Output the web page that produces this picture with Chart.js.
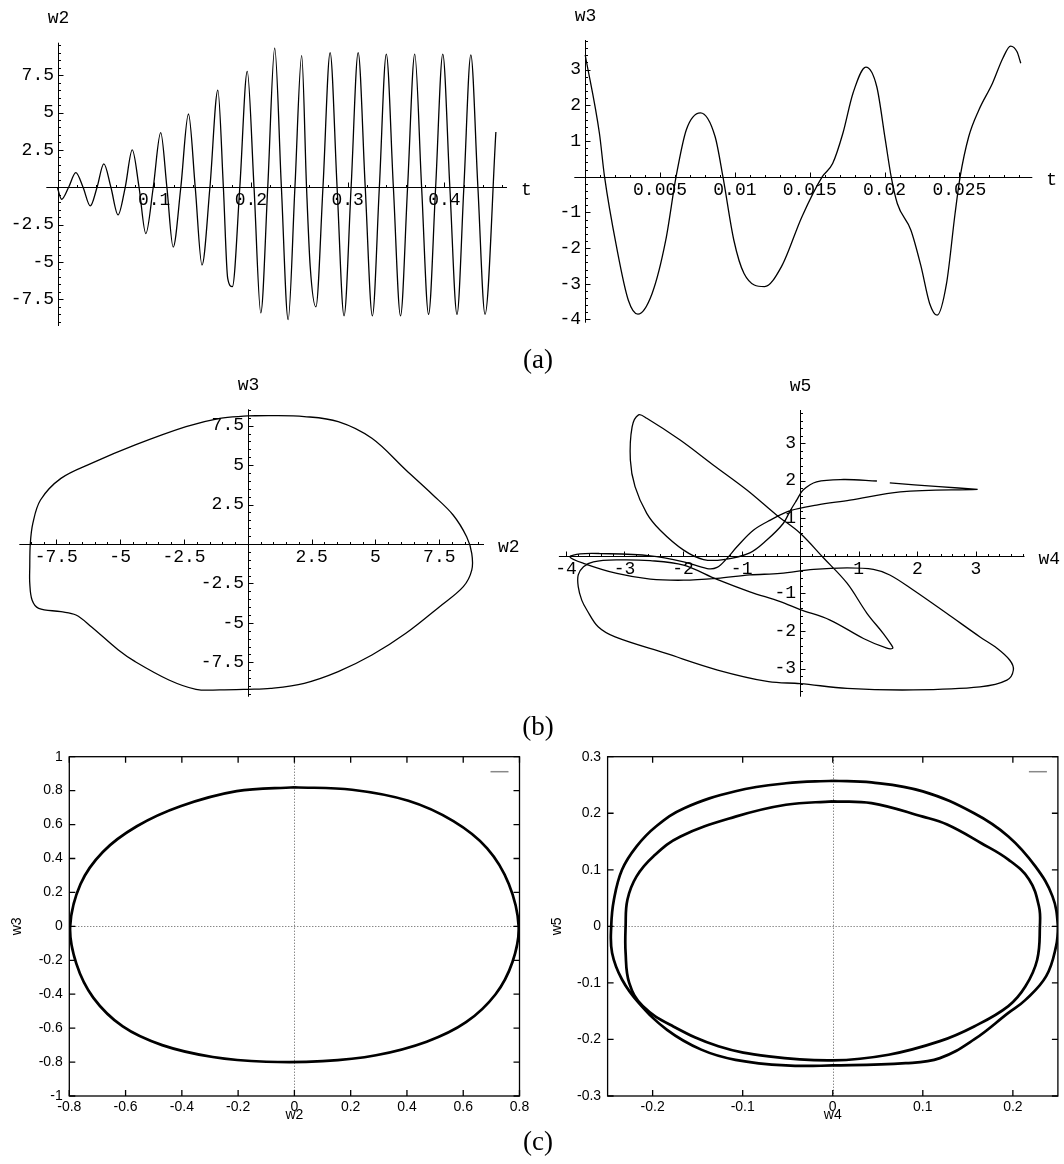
<!DOCTYPE html>
<html><head><meta charset="utf-8">
<script src="https://cdn.jsdelivr.net/npm/chart.js@4.4.1/dist/chart.umd.min.js"></script>
<style>
html,body{margin:0;padding:0;background:#fff;}
body{width:1064px;height:1164px;position:relative;overflow:hidden;}
canvas{position:absolute;}
.tag{position:absolute;font-family:"Liberation Serif","Times New Roman",serif;font-size:27px;color:#000;transform:translate(-50%,-50%);line-height:1;white-space:nowrap;}
</style></head><body>
<canvas id="c1" width="540" height="345" style="left:0;top:0"></canvas>
<canvas id="c2" width="524" height="345" style="left:540px;top:0"></canvas>
<canvas id="c3" width="540" height="350" style="left:0;top:360px"></canvas>
<canvas id="c4" width="524" height="350" style="left:540px;top:360px"></canvas>
<canvas id="c5" width="540" height="390" style="left:0;top:740px"></canvas>
<canvas id="c6" width="524" height="390" style="left:540px;top:740px"></canvas>
<div class="tag" style="left:538px;top:359px">(a)</div>
<div class="tag" style="left:538px;top:726px">(b)</div>
<div class="tag" style="left:538px;top:1141px">(c)</div>
<script>
// ---- (a) left : w2(t) ----
const tA = [0,0.0042,0.0115,0.0189,0.0264,0.0339,0.0409,0.0479,0.0552,0.0626,0.0700,0.0773,0.0843,0.0913,0.0990,0.1067,0.1131,0.1196,0.1275,0.1354,0.1424,0.1494,0.1576,0.1658,0.1715,0.1760,0.1808,0.1885,0.1962,0.2032,0.2102,0.2174,0.2246,0.2315,0.2385,0.2455,0.2525,0.2575,0.2613,0.2672,0.2745,0.2819,0.2891,0.2963,0.3036,0.3109,0.3182,0.3256,0.3328,0.3400,0.3473,0.3547,0.3620,0.3694,0.3765,0.3837,0.3910,0.3984,0.4057,0.4131,0.4202,0.4274,0.4347,0.4421,0.4533];
const w2A = [-0.05,-0.80,0,0.98,0,-1.25,0,1.56,0,-1.85,0,2.50,0,-3.10,0,3.65,0,-4.00,0,4.90,0,-5.20,0,6.50,0,-6.10,-6.65,0,7.75,0,-8.40,0,9.30,0,-8.85,0,8.80,0,-5.30,-8.00,0,9.00,0,-8.60,0,9.00,0,-8.60,0,8.90,0,-8.60,0,8.90,0,-8.50,0,8.90,0,-8.50,0,8.85,0,-8.50,3.70];
const ticksAx = [0.1,0.2,0.3,0.4];
const ticksAy = [-7.5,-5,-2.5,2.5,5,7.5];

// ---- (a) right : w3(t) ----
const tB = [0,0.00095,0.00129,0.00209,0.00288,0.00352,0.00447,0.00538,0.00607,0.00675,0.0077,0.00868,0.0092,0.00993,0.01061,0.01198,0.01311,0.01448,0.01584,0.01653,0.01721,0.01789,0.01875,0.01948,0.02005,0.02044,0.02085,0.02176,0.02244,0.02301,0.02351,0.02414,0.02471,0.02505,0.02562,0.0263,0.02721,0.0279,0.02842,0.02885,0.0291];
const w3B = [3.41,1.21,0,-1.96,-3.46,-3.85,-3.27,-1.78,0,1.31,1.79,1.12,0,-1.78,-2.71,-3.08,-2.52,-1.12,0,0.37,1.21,2.34,3.07,2.52,1.03,0,-0.75,-1.5,-2.52,-3.55,-3.88,-2.99,-1.03,0,1.12,1.87,2.62,3.32,3.66,3.5,3.18];
const ticksBx = [0.005,0.01,0.015,0.02,0.025];
const ticksBy = [-4,-3,-2,-1,1,2,3];

// ---- (b) left : w3 vs w2 ----
const w2C = [0,0.89,2.21,3.54,4.86,6.19,7.25,8.04,8.57,8.77,8.77,8.44,7.51,6.19,4.86,3.54,2.21,0.89,0,-1.10,-2.03,-3.09,-4.41,-5.07,-6.13,-6.73,-7.32,-8.19,-8.45,-8.54,-8.54,-8.52,-8.42,-8.12,-7.32,-6.13,-4.41,-2.42,-1.10,0];
const w3C = [8.12,8.14,8.08,7.76,6.70,4.69,3.11,1.84,0.46,-0.59,-1.65,-2.70,-3.97,-5.66,-7.04,-8.09,-8.83,-9.15,-9.21,-9.25,-9.21,-8.62,-7.46,-6.72,-5.24,-4.50,-4.29,-4.08,-3.55,-2.49,-1.44,0,1.31,2.79,4.16,5.11,6.28,7.44,7.97,8.12];
const ticksC = [-7.5,-5,-2.5,2.5,5,7.5];

// ---- (b) right : w5 vs w4 ----
const w4D = [3.03,2.37,1.53,1.42,1.31,0.74,0.28,0.05,-0.06,-0.17,-0.29,-0.57,-0.86,-1.31,-1.65,-1.99,-2.39,-2.62,-2.82,-2.90,-2.87,-2.76,-2.62,-2.05,-1.48,-0.91,-0.40,0.00,0.40,0.80,1.14,1.42,1.56,1.58,1.48,1.08,0.51,0.00,-0.34,-0.86,-1.42,-1.99,-2.56,-3.13,-3.53,-3.70,-3.79,-3.79,-3.73,-3.64,-3.45,-3.16,-2.29,-1.41,-0.54,0.00,0.80,1.93,3.07,3.53,3.64,3.58,3.36,3.07,2.50,1.93,1.53,1.25,0.80,0.23,-0.34,-0.86,-1.42,-1.99,-2.56,-3.13,-3.70,-3.93,-3.76,-3.42,-2.56,-1.99,-1.59,-1.42,-1.25,-1.08,-0.80,-0.51,-0.17,0.28,0.85,1.71,3.03];
const w5D = [1.77,1.84,1.94,null,1.99,2.03,1.97,1.75,1.48,1.20,0.86,0.42,0.08,-0.10,-0.10,0.15,0.68,1.13,1.84,2.55,3.43,3.75,3.66,3.08,2.41,1.75,1.08,0.60,-0.06,-0.73,-1.53,-2.07,-2.38,-2.46,-2.46,-2.20,-1.71,-1.43,-1.22,-0.96,-0.63,-0.25,-0.13,-0.11,-0.16,-0.29,-0.51,-0.82,-1.18,-1.45,-1.89,-2.16,-2.60,-3.04,-3.35,-3.40,-3.53,-3.57,-3.49,-3.31,-3.04,-2.78,-2.46,-2.16,-1.53,-0.91,-0.51,-0.36,-0.32,-0.36,-0.47,-0.51,-0.60,-0.65,-0.62,-0.47,-0.20,-0.03,0.05,0.06,0.00,-0.16,-0.34,-0.31,-0.07,0.24,0.68,0.95,1.20,1.35,1.48,1.70,1.77];
const ticksDx = [-4,-3,-2,-1,1,2,3];
const ticksDy = [-3,-2,-1,1,2,3];

// ---- (c) left : w3 vs w2 ----
const w2E = [0,-0.205,-0.405,-0.560,-0.680,-0.760,-0.797,-0.775,-0.715,-0.610,-0.470,-0.290,-0.100,0.100,0.290,0.470,0.610,0.715,0.775,0.797,0.762,0.685,0.565,0.405,0.205,0];
const w3E = [0.82,0.797,0.708,0.590,0.440,0.250,0,-0.220,-0.420,-0.590,-0.700,-0.770,-0.798,-0.795,-0.760,-0.680,-0.565,-0.400,-0.210,0,0.250,0.460,0.620,0.740,0.805,0.82];
const ticksEx = [-0.8,-0.6,-0.4,-0.2,0,0.2,0.4,0.6,0.8];
const ticksEy = [-1,-0.8,-0.6,-0.4,-0.2,0,0.2,0.4,0.6,0.8,1];

// ---- (c) right : w5 vs w4 (outer and inner loop) ----
const w4F1 = [0,0.043,0.100,0.157,0.195,0.225,0.244,0.250,0.248,0.237,0.214,0.195,0.157,0.119,0.081,0,-0.052,-0.108,-0.146,-0.184,-0.215,-0.234,-0.245,-0.246,-0.243,-0.234,-0.218,-0.196,-0.165,-0.108,-0.052,0];
const w5F1 = [0.2575,0.2546,0.2387,0.200,0.159,0.106,0.053,0,-0.035,-0.088,-0.130,-0.153,-0.200,-0.233,-0.242,-0.246,-0.246,-0.236,-0.218,-0.183,-0.136,-0.094,-0.047,0,0.047,0.100,0.141,0.177,0.209,0.239,0.253,0.2575];
const w4F2 = [0,0.043,0.100,0.127,0.165,0.195,0.218,0.229,0.230,0.227,0.214,0.195,0.157,0.119,0.062,0,-0.071,-0.127,-0.177,-0.211,-0.226,-0.230,-0.230,-0.228,-0.218,-0.199,-0.169,-0.108,-0.052,0];
const w5F2 = [0.221,0.218,0.194,0.180,0.147,0.118,0.083,0.035,0,-0.059,-0.106,-0.141,-0.177,-0.203,-0.227,-0.237,-0.230,-0.212,-0.177,-0.141,-0.100,-0.047,0,0.047,0.088,0.124,0.159,0.194,0.215,0.221];
const ticksFx = [-0.2,-0.1,0,0.1,0.2];
const ticksFy = [-0.3,-0.2,-0.1,0,0.1,0.2,0.3];

Chart.defaults.color = '#000';
const MONO = '"Liberation Mono", "Courier New", monospace';
const SANS = '"Liberation Sans", Arial, sans-serif';

function pts(xs, ys){ return xs.map((v,i)=>({x:v, y:ys[i]})); }

function mathAxes(o){
  return { id:'mathAxes', afterDatasetsDraw(chart){
    const {ctx, chartArea:ca, scales:{x,y}} = chart;
    const X0 = Math.round(x.getPixelForValue(0)) + 0.5;
    const Y0 = Math.round(y.getPixelForValue(0)) + 0.5;
    ctx.save();
    ctx.strokeStyle = '#000'; ctx.lineWidth = 1;
    ctx.beginPath();
    ctx.moveTo(ca.left, Y0); ctx.lineTo(ca.right, Y0);
    ctx.moveTo(X0, ca.top); ctx.lineTo(X0, ca.bottom);
    for (let k = Math.ceil(x.min/o.xMinor - 1e-6); k*o.xMinor <= x.max + 1e-9; k++) {
      const p = Math.round(x.getPixelForValue(k*o.xMinor)) + 0.5;
      ctx.moveTo(p, Y0); ctx.lineTo(p, Y0 - 2.5);
    }
    for (let k = Math.ceil(y.min/o.yMinor - 1e-6); k*o.yMinor <= y.max + 1e-9; k++) {
      const p = Math.round(y.getPixelForValue(k*o.yMinor)) + 0.5;
      ctx.moveTo(X0, p); ctx.lineTo(X0 + 2.5, p);
    }
    o.xTicks.forEach(v => { const p = Math.round(x.getPixelForValue(v)) + 0.5; ctx.moveTo(p, Y0); ctx.lineTo(p, Y0 - 5); });
    o.yTicks.forEach(v => { const p = Math.round(y.getPixelForValue(v)) + 0.5; ctx.moveTo(X0, p); ctx.lineTo(X0 + 5, p); });
    ctx.stroke();
    ctx.fillStyle = '#000';
    ctx.font = '18px ' + MONO;
    ctx.textAlign = 'center'; ctx.textBaseline = 'top';
    o.xTicks.forEach(v => ctx.fillText(String(v), x.getPixelForValue(v), Y0 + 4));
    ctx.textAlign = 'right'; ctx.textBaseline = 'middle';
    o.yTicks.forEach(v => ctx.fillText(String(v), X0 - 4.5, y.getPixelForValue(v)));
    ctx.textAlign = 'left';
    ctx.fillText(o.xName, ca.right + 14, Y0 + 3);
    ctx.textAlign = 'center';
    ctx.fillText(o.yName, X0, ca.top - 24);
    ctx.restore();
  }};
}

function mathChart(id, xs, ys, c){
  return new Chart(document.getElementById(id), {
    type:'scatter',
    data:{datasets:[{data:pts(xs,ys), showLine:true, pointRadius:0, borderColor:'#000', borderWidth:1.3, fill:false,
      tension:c.tension, cubicInterpolationMode:c.mono?'monotone':'default', spanGaps:false}]},
    options:{responsive:false, animation:false, events:[], layout:{padding:c.pad},
      plugins:{legend:{display:false}, tooltip:{enabled:false}},
      scales:{x:{type:'linear', min:c.xr[0], max:c.xr[1], display:false},
              y:{type:'linear', min:c.yr[0], max:c.yr[1], display:false}}},
    plugins:[mathAxes(c.axes)]
  });
}

function gnuFrame(o){
  return { id:'gnuFrame',
    beforeDatasetsDraw(chart){
      const {ctx, chartArea:ca, scales:{x,y}} = chart;
      const px = Math.round(x.getPixelForValue(0)) + 0.5, py = Math.round(y.getPixelForValue(0)) + 0.5;
      ctx.save(); ctx.strokeStyle = '#555'; ctx.lineWidth = 1; ctx.setLineDash([1,2]);
      ctx.beginPath(); ctx.moveTo(px, ca.top); ctx.lineTo(px, ca.bottom);
      ctx.moveTo(ca.left, py); ctx.lineTo(ca.right, py); ctx.stroke(); ctx.restore();
    },
    afterDatasetsDraw(chart){
      const {ctx, chartArea:ca, scales:{x,y}} = chart;
      ctx.save(); ctx.strokeStyle = '#000'; ctx.lineWidth = 1.3;
      ctx.strokeRect(ca.left, ca.top, ca.width, ca.height);
      ctx.beginPath();
      o.xTicks.forEach(v => { const p = x.getPixelForValue(v); ctx.moveTo(p, ca.bottom); ctx.lineTo(p, ca.bottom - 6); ctx.moveTo(p, ca.top); ctx.lineTo(p, ca.top + 6); });
      o.yTicks.forEach(v => { const p = y.getPixelForValue(v); ctx.moveTo(ca.left, p); ctx.lineTo(ca.left + 6, p); ctx.moveTo(ca.right, p); ctx.lineTo(ca.right - 6, p); });
      ctx.stroke();
      ctx.strokeStyle = '#888'; ctx.lineWidth = 1.5;
      ctx.beginPath(); ctx.moveTo(ca.right - 29, ca.top + 15); ctx.lineTo(ca.right - 11, ca.top + 15); ctx.stroke();
      ctx.restore();
    }};
}

function gnuChart(id, sets, c){
  return new Chart(document.getElementById(id), {
    type:'scatter',
    data:{datasets: sets.map(s => ({data:pts(s[0], s[1]), showLine:true, pointRadius:0, borderColor:'#000', borderWidth:2.7, fill:false, tension:c.tension}))},
    options:{responsive:false, animation:false, events:[], layout:{padding:c.pad},
      plugins:{legend:{display:false}, tooltip:{enabled:false}},
      scales:{
        x:{type:'linear', position:'bottom', min:c.xr[0], max:c.xr[1],
           grid:{display:false, drawTicks:false}, border:{display:false},
           ticks:{font:{family:SANS, size:14}, color:'#000', padding:3, maxRotation:0, autoSkip:false, callback:v=>String(v)},
           afterBuildTicks: s => { s.ticks = c.xTicks.map(v => ({value:v})); },
           afterFit: s => { s.height = 28; },
           title:{display:true, text:c.xName, font:{family:SANS, size:14}, color:'#000', padding:0}},
        y:{type:'linear', position:'left', min:c.yr[0], max:c.yr[1],
           grid:{display:false, drawTicks:false}, border:{display:false},
           ticks:{font:{family:SANS, size:14}, color:'#000', padding:6.5, autoSkip:false, callback:v=>String(v)},
           afterBuildTicks: s => { s.ticks = c.yTicks.map(v => ({value:v})); },
           afterFit: s => { s.width = c.yw; },
           title:{display:true, text:c.yName, font:{family:SANS, size:14}, color:'#000', padding:{top:8.6, bottom:0}}}
      }},
    plugins:[gnuFrame({xTicks:c.xTicks, yTicks:c.yTicks})]
  });
}

mathChart('c1', tA, w2A, {mono:true, tension:0.4, pad:{left:46.3, top:42.7, right:33, bottom:19},
  xr:[-0.0116, 0.4648], yr:[-9.28, 9.67],
  axes:{xTicks:ticksAx, yTicks:ticksAy, xMinor:0.02, yMinor:0.5, xName:'t', yName:'w2'}});
mathChart('c2', tB, w3B, {mono:true, tension:0.4, pad:{left:34.3, top:40, right:31.7, bottom:22.3},
  xr:[-0.00073, 0.02987], yr:[-4.09, 3.83],
  axes:{xTicks:ticksBx, yTicks:ticksBy, xMinor:0.001, yMinor:0.2, xName:'t', yName:'w3'}});
mathChart('c3', w2C, w3C, {mono:false, tension:0.35, pad:{left:19.3, top:49.3, right:56, bottom:13.3},
  xr:[-8.95, 9.25], yr:[-9.68, 8.54],
  axes:{xTicks:ticksC, yTicks:ticksC, xMinor:0.5, yMinor:0.5, xName:'w2', yName:'w3'}});
mathChart('c4', w4D, w5D, {mono:false, tension:0.35, pad:{left:18.9, top:50, right:39.5, bottom:13.3},
  xr:[-4.12, 3.83], yr:[-3.75, 3.88],
  axes:{xTicks:ticksDx, yTicks:ticksDy, xMinor:0.2, yMinor:0.2, xName:'w4', yName:'w5'}});
gnuChart('c5', [[w2E, w3E]], {tension:0.35, pad:{left:0, top:16.7, right:20.5, bottom:6}, yw:69.3,
  xr:[-0.8, 0.8], yr:[-1, 1], xTicks:ticksEx, yTicks:ticksEy, xName:'w2', yName:'w3'});
gnuChart('c6', [[w4F1, w5F1], [w4F2, w5F2]], {tension:0.4, pad:{left:0, top:16.7, right:6.1, bottom:6}, yw:67.6,
  xr:[-0.25, 0.25], yr:[-0.3, 0.3], xTicks:ticksFx, yTicks:ticksFy, xName:'w4', yName:'w5'});
</script>
</body></html>
